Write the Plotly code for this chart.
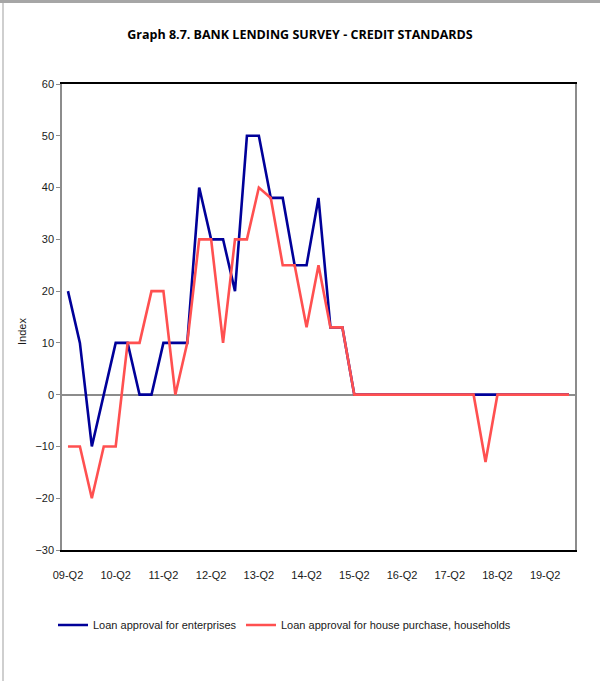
import plotly.graph_objects as go

# quarters 09-Q2 .. 19-Q4
quarters = []
for yr in range(9, 20):
    for q in range(1, 5):
        if yr == 9 and q == 1:
            continue
        quarters.append(f"{yr:02d}-Q{q}")

tick_labels = ["09-Q2", "10-Q2", "11-Q2", "12-Q2", "13-Q2", "14-Q2",
               "15-Q2", "16-Q2", "17-Q2", "18-Q2", "19-Q2"]

enterprises = [20, 10, -10, 0, 10, 10, 0, 0, 10, 10, 10, 40, 30, 30, 20, 50, 50,
               38, 38, 25, 25, 38, 13, 13, 0, 0, 0, 0, 0, 0, 0, 0, 0, 0, 0, 0,
               0, 0, 0, 0, 0, 0, 0]
households = [-10, -10, -20, -10, -10, 10, 10, 20, 20, 0, 10, 30, 30, 10, 30, 30, 40,
              38, 25, 25, 13, 25, 13, 13, 0, 0, 0, 0, 0, 0, 0, 0, 0, 0, 0, -13,
              0, 0, 0, 0, 0, 0, 0]

W, H = 600, 681
ML, MR, MT, MB = 62, 25, 84, 131
pw, ph = W - ML - MR, H - MT - MB

FONT = "Liberation Sans, Arial, sans-serif"
legend_y = -(625 - MT - ph) / ph

fig = go.Figure()
fig.add_trace(go.Scatter(
    x=quarters, y=enterprises, mode='lines',
    name='Loan approval for enterprises',
    line=dict(color='#000099', width=2.6),
    legend='legend'
))
fig.add_trace(go.Scatter(
    x=quarters, y=households, mode='lines',
    name='Loan approval for house purchase, households',
    line=dict(color='#FF5050', width=2.6),
    legend='legend2'
))

legend_common = dict(orientation='h', xanchor='left', y=legend_y, yanchor='middle',
                     itemwidth=30, font=dict(family=FONT, size=11),
                     bgcolor='rgba(0,0,0,0)')

fig.update_layout(
    width=W, height=H,
    margin=dict(l=ML, r=MR, t=MT, b=MB),
    paper_bgcolor='white', plot_bgcolor='white',
    font=dict(family=FONT, size=11, color='#1a1a1a'),
    title=dict(text="<b>Graph 8.7. BANK LENDING SURVEY - CREDIT STANDARDS</b>",
               x=0.5, xanchor='center', y=1 - 35 / H, yanchor='middle',
               font=dict(family="Open Sans, sans-serif", size=12.5, color='black')),
    xaxis=dict(
        type='category', categoryorder='array', categoryarray=quarters,
        range=[-0.5, len(quarters) - 0.5],
        tickvals=tick_labels, ticktext=tick_labels, tickangle=0,
        showgrid=False, zeroline=False,
        showline=True, linecolor='black', linewidth=1.5, mirror=True,
        ticks='', tickfont=dict(size=11, family=FONT), ticklabelstandoff=14,
    ),
    yaxis=dict(
        range=[-30, 60], dtick=10,
        showgrid=False,
        zeroline=True, zerolinecolor='#8c8c8c', zerolinewidth=1.5,
        showline=True, linecolor='#8c8c8c', linewidth=1.5, mirror=True,
        ticks='outside', ticklen=4, tickcolor='#8c8c8c',
        tickfont=dict(size=11, family=FONT),
    ),
    showlegend=True,
    legend=dict(x=(53 - ML) / pw, **legend_common),
    legend2=dict(x=(241 - ML) / pw, **legend_common),
)

# y axis title placed where the reference has it
fig.add_annotation(text="Index", xref='paper', yref='paper',
                   x=(22 - ML) / pw, y=1 - (332 - MT) / ph,
                   xanchor='center', yanchor='middle', textangle=-90,
                   showarrow=False,
                   font=dict(family=FONT, size=11, color='#1a1a1a'))

# outer chart border, left edge
fig.add_shape(type='line', xref='paper', yref='paper',
              x0=(3 - ML) / pw, x1=(3 - ML) / pw,
              y0=1 + (MT - 2) / ph, y1=-(H - MT - ph) / ph,
              line=dict(color='#bfbfbf', width=1.5))

# top edge of the chart frame as a thin strip; drop page margin
post = (
    "document.body.style.margin='0';"
    "var d=document.createElement('div');"
    "d.style.cssText='position:fixed;left:0;top:0;width:600px;height:3px;"
    "background:#a6a6a6;z-index:1000;pointer-events:none';"
    "document.body.appendChild(d);"
)
fig.write_html("out.html", config={'displayModeBar': False}, post_script=post)
